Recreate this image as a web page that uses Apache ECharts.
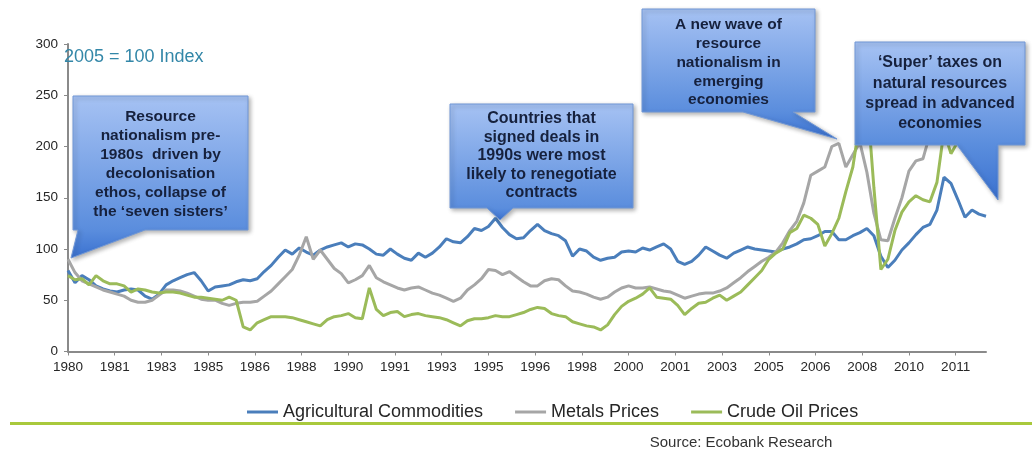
<!DOCTYPE html>
<html><head><meta charset="utf-8">
<script src="https://cdn.jsdelivr.net/npm/echarts@6/dist/echarts.min.js"></script>
<style>html,body{margin:0;padding:0;background:#fff}#c{width:1032px;height:450px}</style>
</head><body><div id="c"></div>
<script>
// x positions: months since Jan 1980, sampled quarterly (Jan 1980 .. Oct 2012)
const quarterMonths = [];
for (let i = 0; i < 132; i++) quarterMonths.push(i * 3);

// axis tick positions (every 20 months) and their labels
const tickMonths = [0,20,40,60,80,100,120,140,160,180,200,220,240,260,280,300,320,340,360,380];
const tickLabels = ['1980','1981','1983','1985','1986','1988','1990','1991','1993','1995','1996','1998','2000','2001','2003','2005','2006','2008','2010','2011'];

const seriesNames = ['Agricultural Commodities', 'Metals Prices', 'Crude Oil Prices'];

const agri = [
 79,67,74,70, 64,61,59,58, 60,61,60,54, 51,56,65,69, 72,75,77,69,
 59,63,64,65, 68,70,69,71, 78,84,92,99, 95,101,97,94, 99,102,104,106,
 102,105,104,100, 95,94,100,95, 91,89,96,92, 96,102,110,107, 106,112,120,118,
 122,130,121,114, 110,111,118,124, 118,115,113,108, 93,100,98,92, 89,91,92,97,
 98,97,101,99, 102,105,100,88, 85,88,94,102, 98,94,91,96, 99,102,100,99,
 98,97,100,102, 105,109,110,113, 117,117,109,109, 113,116,120,113, 93,82,89,99,
 106,114,121,124, 138,170,164,148, 131,138,134,132
];
const metals = [
 90,77,69,66, 63,60,58,56, 54,50,48,48, 50,55,60,60, 59,57,54,51,
 50,50,47,45, 47,48,48,49, 54,59,66,73, 80,94,112,90, 99,90,81,76,
 67,70,74,84, 72,68,65,62, 60,62,63,60, 57,55,52,49, 52,60,65,71,
 80,79,75,78, 73,68,64,64, 69,71,70,64, 59,58,56,53, 51,53,58,62,
 64,62,62,63, 61,59,58,55, 52,54,56,57, 57,59,62,67, 72,78,83,88,
 92,97,106,118, 127,145,172,176, 180,200,203,180, 192,204,175,135, 109,108,130,150,
 176,186,188,212, 235,240,225,210, 208,212,206,205
];
const oil = [
 74,70,71,65, 74,69,66,66, 64,58,61,60, 58,57,58,58, 57,55,53,53,
 52,51,50,53, 50,24,21,28, 31,34,34,34, 33,31,29,27, 25,31,34,35,
 37,33,32,62, 41,35,38,39, 34,36,37,35, 34,33,31,28, 25,30,32,32,
 33,35,34,34, 36,38,41,43, 42,37,35,34, 29,27,25,24, 21,26,36,44,
 49,52,56,62, 53,52,51,45, 36,42,47,48, 52,55,50,54, 58,65,72,79,
 90,96,100,116, 120,133,130,124, 103,115,130,156, 180,225,250,160, 80,90,118,136,
 146,152,148,146, 165,215,193,205, 215,220,205,205
];

const colors = ['#4a7ebb', '#a6a6a6', '#9bbb59'];
const pair = arr => arr.map((v, i) => [quarterMonths[i], v]);

const chart = echarts.init(document.getElementById('c'), null, {renderer: 'canvas'});

const FONT = '"Liberation Sans", Arial, sans-serif';
function callout(points, top, boxBottom, tipY) {
  const f = (boxBottom - top) / (tipY - top);
  return {
    type: 'polygon', z: 100,
    shape: {points: points},
    style: {
      fill: new echarts.graphic.LinearGradient(0, 0, 0, 1, [
        {offset: 0, color: '#a6c2f3'},
        {offset: f, color: '#5a8ddd'},
        {offset: 1, color: '#3a71d0'}
      ]),
      stroke: '#7097d6', lineWidth: 1,
      shadowBlur: 4, shadowOffsetX: 2, shadowOffsetY: 2, shadowColor: 'rgba(0,0,0,0.3)'
    }
  };
}
function boxText(x, y, lines, size, lh) {
  return {
    type: 'text', z: 101,
    style: {
      x: x, y: y, text: lines.join('\n'),
      font: 'bold ' + size + 'px ' + FONT,
      fill: '#16213d', textAlign: 'center', textVerticalAlign: 'middle', lineHeight: lh
    }
  };
}

const option = {
  animation: false,
  backgroundColor: '#ffffff',
  color: colors,
  grid: {left: 68, right: 46, top: 44, bottom: 98.5},
  legend: {
    data: seriesNames,
    left: 242, top: 398,
    icon: 'rect', itemWidth: 31, itemHeight: 3, itemGap: 32,
    textStyle: {fontFamily: FONT, fontSize: 18, color: '#262626'}
  },
  xAxis: {
    type: 'value', min: 0, max: 393,
    axisLine: {show: true, onZero: false, lineStyle: {color: '#8a8a8a', width: 2}},
    axisTick: {show: true, length: 4, customValues: tickMonths, lineStyle: {color: '#8a8a8a'}},
    axisLabel: {
      customValues: tickMonths, margin: 9,
      fontFamily: FONT, fontSize: 13.5, color: '#262626',
      formatter: v => { const k = tickMonths.indexOf(Math.round(v)); return k >= 0 ? tickLabels[k] : ''; }
    },
    splitLine: {show: false}
  },
  yAxis: {
    type: 'value', min: 0, max: 300, interval: 50,
    axisLine: {show: true, lineStyle: {color: '#8a8a8a', width: 2}},
    axisTick: {show: true, length: 4, lineStyle: {color: '#8a8a8a'}},
    axisLabel: {margin: 10, fontFamily: FONT, fontSize: 13.5, color: '#262626'},
    splitLine: {show: false}
  },
  series: [
    {name: seriesNames[0], type: 'line', data: pair(agri), showSymbol: false, lineStyle: {width: 3}},
    {name: seriesNames[1], type: 'line', data: pair(metals), showSymbol: false, lineStyle: {width: 3}},
    {name: seriesNames[2], type: 'line', data: pair(oil), showSymbol: false, lineStyle: {width: 3}}
  ],
  graphic: [
    {type: 'text', z: 50, style: {x: 64, y: 57, text: '2005 = 100 Index', font: '18px ' + FONT, fill: '#3387a8', textVerticalAlign: 'middle'}},
    {type: 'rect', z: 50, shape: {x: 10, y: 422, width: 1022, height: 3}, style: {fill: '#a9c93c'}},
    {type: 'text', z: 50, style: {x: 741, y: 443, text: 'Source: Ecobank Research', font: '15px ' + FONT, fill: '#333333', textAlign: 'center', textVerticalAlign: 'middle'}},

    callout([[73,96],[248,96],[248,230],[145,230],[71,258],[78,230],[73,230]], 96, 230, 258),
    boxText(160.5, 164.5, ['Resource', 'nationalism pre-', '1980s  driven by', 'decolonisation', 'ethos, collapse of', 'the \u2018seven sisters\u2019'], 15.5, 19),

    callout([[450,104],[633,104],[633,208],[513,208],[500,220],[487,208],[450,208]], 104, 208, 220),
    boxText(541.5, 156, ['Countries that', 'signed deals in', '1990s were most', 'likely to renegotiate', 'contracts'], 16, 18.5),

    callout([[642,9],[815,9],[815,112],[793,112],[837,139],[743,112],[642,112]], 9, 112, 139),
    boxText(728.5, 62.5, ['A new wave of', 'resource', 'nationalism in', 'emerging', 'economies'], 15.5, 18.8),

    callout([[855,42],[1025,42],[1025,145],[998,145],[998,200],[957,145],[855,145]], 42, 145, 200),
    boxText(940, 93.5, ['\u2018Super\u2019 taxes on', 'natural resources', 'spread in advanced', 'economies'], 16, 20.3)
  ]
};
chart.setOption(option);
</script>
</body></html>
